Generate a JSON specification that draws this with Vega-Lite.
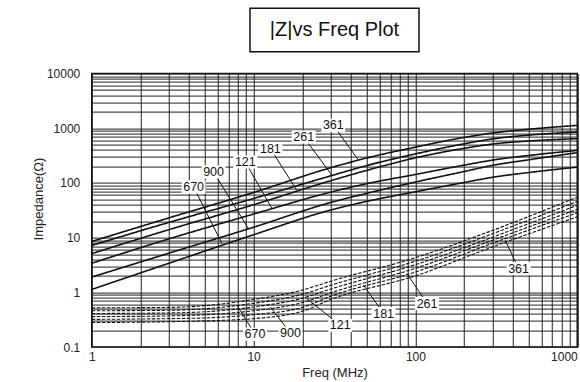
{
  "$schema": "https://vega.github.io/schema/vega-lite/v6.json",
  "autosize": {"type": "none"},
  "padding": {"left": 91.5, "top": 8.3, "right": 488.5, "bottom": 373.7},
  "background": "white",
  "config": {
    "font": "Liberation Sans",
    "view": {"stroke": "#111", "strokeWidth": 1.5}
  },
  "bounds": "flush",
  "center": true,
  "spacing": 21.3,
  "datasets": {
    "curves": [
      {"part": "361", "kind": "Z", "f": 1, "v": 8.5}, {"part": "361", "kind": "Z", "f": 3, "v": 23}, {"part": "361", "kind": "Z", "f": 10, "v": 67}, {"part": "361", "kind": "Z", "f": 30, "v": 190}, {"part": "361", "kind": "Z", "f": 50, "v": 286}, {"part": "361", "kind": "Z", "f": 100, "v": 452}, {"part": "361", "kind": "Z", "f": 200, "v": 680}, {"part": "361", "kind": "Z", "f": 300, "v": 820}, {"part": "361", "kind": "Z", "f": 500, "v": 960}, {"part": "361", "kind": "Z", "f": 1000, "v": 1130},
      {"part": "261", "kind": "Z", "f": 1, "v": 7.2}, {"part": "261", "kind": "Z", "f": 3, "v": 19}, {"part": "261", "kind": "Z", "f": 10, "v": 52}, {"part": "261", "kind": "Z", "f": 30, "v": 135}, {"part": "261", "kind": "Z", "f": 50, "v": 208}, {"part": "261", "kind": "Z", "f": 100, "v": 340}, {"part": "261", "kind": "Z", "f": 200, "v": 520}, {"part": "261", "kind": "Z", "f": 300, "v": 640}, {"part": "261", "kind": "Z", "f": 500, "v": 750}, {"part": "261", "kind": "Z", "f": 1000, "v": 851},
      {"part": "181", "kind": "Z", "f": 1, "v": 5.1}, {"part": "181", "kind": "Z", "f": 3, "v": 14}, {"part": "181", "kind": "Z", "f": 10, "v": 40}, {"part": "181", "kind": "Z", "f": 30, "v": 110}, {"part": "181", "kind": "Z", "f": 50, "v": 170}, {"part": "181", "kind": "Z", "f": 100, "v": 288}, {"part": "181", "kind": "Z", "f": 200, "v": 430}, {"part": "181", "kind": "Z", "f": 300, "v": 515}, {"part": "181", "kind": "Z", "f": 500, "v": 585}, {"part": "181", "kind": "Z", "f": 1000, "v": 646},
      {"part": "121", "kind": "Z", "f": 1, "v": 3.4}, {"part": "121", "kind": "Z", "f": 3, "v": 9.5}, {"part": "121", "kind": "Z", "f": 10, "v": 27}, {"part": "121", "kind": "Z", "f": 30, "v": 68}, {"part": "121", "kind": "Z", "f": 50, "v": 97}, {"part": "121", "kind": "Z", "f": 100, "v": 143}, {"part": "121", "kind": "Z", "f": 200, "v": 212}, {"part": "121", "kind": "Z", "f": 300, "v": 262}, {"part": "121", "kind": "Z", "f": 500, "v": 318}, {"part": "121", "kind": "Z", "f": 1000, "v": 394},
      {"part": "900", "kind": "Z", "f": 1, "v": 1.9}, {"part": "900", "kind": "Z", "f": 3, "v": 5.2}, {"part": "900", "kind": "Z", "f": 10, "v": 15.5}, {"part": "900", "kind": "Z", "f": 30, "v": 44}, {"part": "900", "kind": "Z", "f": 50, "v": 64.5}, {"part": "900", "kind": "Z", "f": 100, "v": 104}, {"part": "900", "kind": "Z", "f": 200, "v": 162}, {"part": "900", "kind": "Z", "f": 300, "v": 210}, {"part": "900", "kind": "Z", "f": 500, "v": 265}, {"part": "900", "kind": "Z", "f": 1000, "v": 358},
      {"part": "670", "kind": "Z", "f": 1, "v": 1.13}, {"part": "670", "kind": "Z", "f": 3, "v": 3.4}, {"part": "670", "kind": "Z", "f": 10, "v": 11.3}, {"part": "670", "kind": "Z", "f": 30, "v": 32}, {"part": "670", "kind": "Z", "f": 50, "v": 46}, {"part": "670", "kind": "Z", "f": 100, "v": 69}, {"part": "670", "kind": "Z", "f": 200, "v": 102}, {"part": "670", "kind": "Z", "f": 300, "v": 127}, {"part": "670", "kind": "Z", "f": 500, "v": 155}, {"part": "670", "kind": "Z", "f": 1000, "v": 195},
      {"part": "670", "kind": "R", "f": 1, "v": 0.52}, {"part": "670", "kind": "R", "f": 3, "v": 0.53}, {"part": "670", "kind": "R", "f": 5, "v": 0.57}, {"part": "670", "kind": "R", "f": 10, "v": 0.74}, {"part": "670", "kind": "R", "f": 20, "v": 1.1}, {"part": "670", "kind": "R", "f": 30, "v": 1.6}, {"part": "670", "kind": "R", "f": 100, "v": 4.3}, {"part": "670", "kind": "R", "f": 300, "v": 13.6}, {"part": "670", "kind": "R", "f": 1000, "v": 55},
      {"part": "900", "kind": "R", "f": 1, "v": 0.46}, {"part": "900", "kind": "R", "f": 3, "v": 0.47}, {"part": "900", "kind": "R", "f": 5, "v": 0.5}, {"part": "900", "kind": "R", "f": 10, "v": 0.63}, {"part": "900", "kind": "R", "f": 20, "v": 0.92}, {"part": "900", "kind": "R", "f": 30, "v": 1.35}, {"part": "900", "kind": "R", "f": 100, "v": 3.7}, {"part": "900", "kind": "R", "f": 300, "v": 11.8}, {"part": "900", "kind": "R", "f": 1000, "v": 46},
      {"part": "121", "kind": "R", "f": 1, "v": 0.41}, {"part": "121", "kind": "R", "f": 3, "v": 0.42}, {"part": "121", "kind": "R", "f": 5, "v": 0.44}, {"part": "121", "kind": "R", "f": 10, "v": 0.54}, {"part": "121", "kind": "R", "f": 20, "v": 0.78}, {"part": "121", "kind": "R", "f": 30, "v": 1.15}, {"part": "121", "kind": "R", "f": 100, "v": 3.2}, {"part": "121", "kind": "R", "f": 300, "v": 10.2}, {"part": "121", "kind": "R", "f": 1000, "v": 39},
      {"part": "181", "kind": "R", "f": 1, "v": 0.36}, {"part": "181", "kind": "R", "f": 3, "v": 0.37}, {"part": "181", "kind": "R", "f": 5, "v": 0.39}, {"part": "181", "kind": "R", "f": 10, "v": 0.46}, {"part": "181", "kind": "R", "f": 20, "v": 0.65}, {"part": "181", "kind": "R", "f": 30, "v": 0.98}, {"part": "181", "kind": "R", "f": 100, "v": 2.75}, {"part": "181", "kind": "R", "f": 300, "v": 9.0}, {"part": "181", "kind": "R", "f": 1000, "v": 33},
      {"part": "261", "kind": "R", "f": 1, "v": 0.32}, {"part": "261", "kind": "R", "f": 3, "v": 0.33}, {"part": "261", "kind": "R", "f": 5, "v": 0.34}, {"part": "261", "kind": "R", "f": 10, "v": 0.39}, {"part": "261", "kind": "R", "f": 20, "v": 0.53}, {"part": "261", "kind": "R", "f": 30, "v": 0.85}, {"part": "261", "kind": "R", "f": 100, "v": 2.35}, {"part": "261", "kind": "R", "f": 300, "v": 7.9}, {"part": "261", "kind": "R", "f": 1000, "v": 28.5},
      {"part": "361", "kind": "R", "f": 1, "v": 0.28}, {"part": "361", "kind": "R", "f": 3, "v": 0.29}, {"part": "361", "kind": "R", "f": 5, "v": 0.3}, {"part": "361", "kind": "R", "f": 10, "v": 0.33}, {"part": "361", "kind": "R", "f": 20, "v": 0.45}, {"part": "361", "kind": "R", "f": 30, "v": 0.74}, {"part": "361", "kind": "R", "f": 100, "v": 2.0}, {"part": "361", "kind": "R", "f": 300, "v": 6.8}, {"part": "361", "kind": "R", "f": 1000, "v": 24}
    ],
    "labels": [
      {"part": "670", "kind": "Z", "lf": 4.26, "lv": 84.4, "ef": 6.38, "ev": 7.78},
      {"part": "900", "kind": "Z", "lf": 5.66, "lv": 158.5, "ef": 9.27, "ev": 14.8},
      {"part": "121", "kind": "Z", "lf": 8.89, "lv": 241.5, "ef": 13.0, "ev": 33.9},
      {"part": "181", "kind": "Z", "lf": 12.7, "lv": 424.6, "ef": 18.5, "ev": 73.5},
      {"part": "261", "kind": "Z", "lf": 20.4, "lv": 692, "ef": 30.5, "ev": 138},
      {"part": "361", "kind": "Z", "lf": 31.1, "lv": 1132, "ef": 44.6, "ev": 259},
      {"part": "670", "kind": "R", "lf": 10.2, "lv": 0.171, "ef": 7.9, "ev": 0.579},
      {"part": "900", "kind": "R", "lf": 16.9, "lv": 0.18, "ef": 12.7, "ev": 0.539},
      {"part": "121", "kind": "R", "lf": 34.3, "lv": 0.249, "ef": 20.9, "ev": 0.81},
      {"part": "181", "kind": "R", "lf": 63.6, "lv": 0.408, "ef": 47.9, "ev": 1.34},
      {"part": "261", "kind": "R", "lf": 118, "lv": 0.622, "ef": 88.8, "ev": 2.2},
      {"part": "361", "kind": "R", "lf": 434, "lv": 2.72, "ef": 359, "ev": 8.93}
    ]
  },
  "vconcat": [
    {
      "width": 169,
      "height": 43.4,
      "data": {"values": [{"t": "|Z|vs Freq Plot"}]},
      "layer": [
        {
          "mark": {"type": "rect", "filled": false, "stroke": "#111", "strokeWidth": 1.5, "fill": null},
          "encoding": {}
        },
        {
          "mark": {"type": "text", "fontSize": 20, "color": "#111", "font": "Liberation Sans"},
          "encoding": {"text": {"field": "t", "type": "nominal"}}
        }
      ]
    },
    {
      "width": 485.5,
      "height": 273.4,
      "layer": [
        {
          "data": {"name": "curves"},
          "mark": {"type": "line", "interpolate": "monotone", "color": "#111"},
          "encoding": {
            "x": {
              "field": "f", "type": "quantitative",
              "scale": {"type": "log", "domain": [1, 1000], "nice": false},
              "axis": {
                "values": [1, 2, 3, 4, 5, 6, 7, 8, 9, 10, 20, 30, 40, 50, 60, 70, 80, 90, 100, 200, 300, 400, 500, 600, 700, 800, 900, 1000],
                "grid": true, "gridColor": "#222", "gridWidth": 1, "gridOpacity": 1,
                "ticks": false, "domain": false,
                "labelExpr": "indexof([1,10,100,1000], datum.value) >= 0 ? format(datum.value, '~g') : ''",
                "labelOverlap": false, "labelFlush": false,
                "labelAlign": {"condition": {"test": "datum.value >= 1000", "value": "right"}, "value": "center"},
                "labelFontSize": 12, "labelColor": "#222", "labelPadding": 4,
                "title": "Freq (MHz)", "titleFontSize": 13, "titleFontWeight": "normal", "titleColor": "#222",
                "titleY": 25.5, "titleBaseline": "middle"
              }
            },
            "y": {
              "field": "v", "type": "quantitative",
              "scale": {"type": "log", "domain": [0.1, 10000], "nice": false},
              "axis": {
                "values": [0.1, 0.2, 0.3, 0.4, 0.5, 0.6, 0.7, 0.8, 0.9, 1, 2, 3, 4, 5, 6, 7, 8, 9, 10, 20, 30, 40, 50, 60, 70, 80, 90, 100, 200, 300, 400, 500, 600, 700, 800, 900, 1000, 2000, 3000, 4000, 5000, 6000, 7000, 8000, 9000, 10000],
                "grid": true, "gridColor": "#222", "gridWidth": 1, "gridOpacity": 1,
                "ticks": false, "domain": false,
                "labelExpr": "indexof([0.1,1,10,100,1000,10000], datum.value) >= 0 ? format(datum.value, '~g') : ''",
                "labelOverlap": false, "labelFlush": false,
                "labelFontSize": 12, "labelColor": "#222", "labelPadding": 12,
                "title": "Impedance(Ω)", "titleFontSize": 13, "titleFontWeight": "normal", "titleColor": "#222",
                "titleX": -53.5, "titleY": 125, "titleBaseline": "middle"
              }
            },
            "detail": {"field": "part", "type": "nominal"},
            "strokeDash": {"field": "kind", "type": "nominal", "scale": {"domain": ["Z", "R"], "range": [[1, 0], [3.5, 1.5]]}, "legend": null},
            "strokeWidth": {"field": "kind", "type": "nominal", "scale": {"domain": ["Z", "R"], "range": [1.6, 1.1]}, "legend": null}
          }
        },
        {
          "data": {"name": "labels"},
          "mark": {"type": "rule", "color": "#111", "strokeWidth": 1},
          "encoding": {
            "x": {"field": "lf", "type": "quantitative", "scale": {"type": "log", "domain": [1, 1000], "nice": false}},
            "y": {"field": "lv", "type": "quantitative", "scale": {"type": "log", "domain": [0.1, 10000], "nice": false}},
            "x2": {"field": "ef"},
            "y2": {"field": "ev"}
          }
        },
        {
          "data": {"name": "labels"},
          "mark": {"type": "point", "shape": "M-1,-0.55H1V0.55H-1Z", "filled": true, "color": "white", "opacity": 1, "size": 576, "strokeWidth": 0},
          "encoding": {
            "x": {"field": "lf", "type": "quantitative", "scale": {"type": "log", "domain": [1, 1000], "nice": false}},
            "y": {"field": "lv", "type": "quantitative", "scale": {"type": "log", "domain": [0.1, 10000], "nice": false}}
          }
        },
        {
          "data": {"name": "labels"},
          "mark": {"type": "text", "fontSize": 12.5, "color": "#111"},
          "encoding": {
            "x": {"field": "lf", "type": "quantitative", "scale": {"type": "log", "domain": [1, 1000], "nice": false}},
            "y": {"field": "lv", "type": "quantitative", "scale": {"type": "log", "domain": [0.1, 10000], "nice": false}},
            "text": {"field": "part", "type": "nominal"}
          }
        }
      ]
    }
  ]
}
